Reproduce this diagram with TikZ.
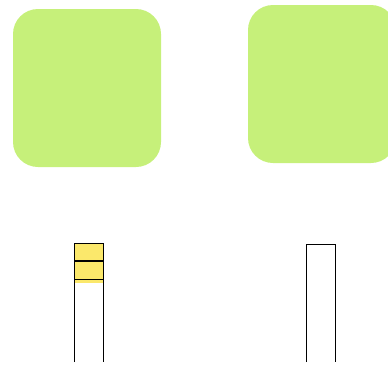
\documentclass[tikz,border=0pt]{standalone}
\definecolor{leaf}{HTML}{C6F07A}
\definecolor{butter}{HTML}{FBE86B}
\tikzset{
  greenbox/.style={fill=leaf, draw=none, rounded corners=25pt, inner sep=0pt},
  colline/.style={draw=black, line width=1.1pt},
}
\begin{document}
\begin{tikzpicture}[x=1pt,y=-1pt]
\useasboundingbox (0,0) rectangle (388,367);
\begin{scope}
\clip (0,0) rectangle (388,367);
\node[greenbox, minimum width=148pt, minimum height=158pt] (A) at (87,88) {};
\node[greenbox, minimum width=148pt, minimum height=158pt] (B) at (322,84) {};
\end{scope}
% left column
\fill[butter] (74.3,243.3) rectangle (103.3,282.7);
\coordinate (L1) at (74.3,362);
\coordinate (L2) at (74.3,243.3);
\coordinate (L3) at (103.3,243.3);
\coordinate (L4) at (103.3,362);
\draw[colline] (L1) -- (L2) -- (L3) -- (L4);
\draw[colline] (74.3,261) -- (103.3,261);
\draw[colline] (74.3,279.3) -- (103.3,279.3);
% right column
\coordinate (R1) at (306.7,362);
\coordinate (R2) at (306.7,244.3);
\coordinate (R3) at (335.7,244.3);
\coordinate (R4) at (335.7,362);
\draw[colline] (R1) -- (R2) -- (R3) -- (R4);
\end{tikzpicture}
\end{document}
